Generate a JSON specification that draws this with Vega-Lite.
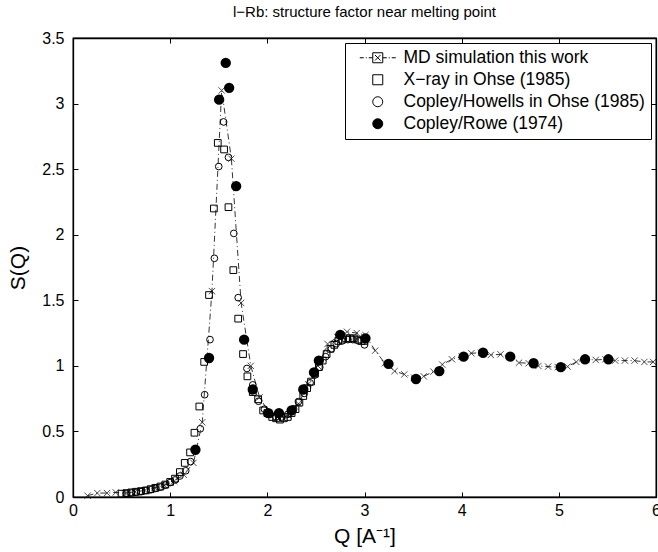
{
  "$schema": "https://vega.github.io/schema/vega-lite/v6.json",
  "width": 583,
  "height": 459,
  "autosize": {"type": "none"},
  "padding": {"left": 73, "top": 38, "right": 2, "bottom": 55},
  "background": "white",
  "title": {"text": "l−Rb: structure factor near melting point", "offset": 10, "fontSize": 15, "font": "Liberation Sans", "fontWeight": "normal", "color": "black"},
  "config": {
    "view": {"stroke": "black", "strokeWidth": 1.3},
    "axis": {"domainColor": "black", "tickColor": "black", "labelColor": "black", "titleColor": "black", "labelFont": "Liberation Sans", "titleFont": "Liberation Sans", "labelFontSize": 16, "titleFontSize": 21, "titleFontWeight": "normal", "grid": false, "tickSize": -5, "tickWidth": 1, "domainWidth": 1.3, "labelFlush": false, "format": "~g"},
    "legend": {"orient": "top-right", "offset": 5, "strokeColor": "black", "fillColor": "white", "padding": 6, "labelFont": "Liberation Sans", "labelFontSize": 17.5, "labelColor": "black", "labelLimit": 400, "symbolSize": 100, "symbolStrokeColor": "black", "symbolStrokeWidth": 1, "symbolOffset": 18, "labelOffset": 17, "rowPadding": 3}
  },
  "datasets": {
    "md": [
      {"q":0.15,"s":0.01},{"q":0.25,"s":0.03},{"q":0.35,"s":0.03},{"q":0.44,"s":0.035},{"q":0.54,"s":0.03},{"q":0.64,"s":0.04},{"q":0.74,"s":0.05},{"q":0.84,"s":0.07},{"q":0.94,"s":0.09},{"q":1.04,"s":0.12},{"q":1.14,"s":0.17},{"q":1.24,"s":0.26},{"q":1.33,"s":0.57},{"q":1.43,"s":1.57},{"q":1.53,"s":3.10},{"q":1.63,"s":2.58},{"q":1.73,"s":1.48},{"q":1.83,"s":1.0},{"q":1.92,"s":0.76},{"q":2.02,"s":0.64},{"q":2.12,"s":0.60},{"q":2.22,"s":0.62},{"q":2.32,"s":0.71},{"q":2.42,"s":0.86},{"q":2.52,"s":1.0},{"q":2.62,"s":1.167},{"q":2.72,"s":1.22},{"q":2.82,"s":1.26},{"q":2.92,"s":1.25},{"q":3.01,"s":1.235},{"q":3.11,"s":1.116},{"q":3.21,"s":1.02},{"q":3.31,"s":0.96},{"q":3.41,"s":0.935},{"q":3.51,"s":0.91},{"q":3.61,"s":0.92},{"q":3.71,"s":0.956},{"q":3.80,"s":1.01},{"q":3.90,"s":1.05},{"q":4.00,"s":1.07},{"q":4.10,"s":1.096},{"q":4.20,"s":1.10},{"q":4.30,"s":1.083},{"q":4.40,"s":1.088},{"q":4.50,"s":1.07},{"q":4.59,"s":1.024},{"q":4.69,"s":1.02},{"q":4.79,"s":0.999},{"q":4.89,"s":0.994},{"q":4.99,"s":0.99},{"q":5.09,"s":0.994},{"q":5.18,"s":1.03},{"q":5.28,"s":1.05},{"q":5.38,"s":1.045},{"q":5.48,"s":1.05},{"q":5.58,"s":1.04},{"q":5.68,"s":1.04},{"q":5.78,"s":1.04},{"q":5.88,"s":1.03},{"q":5.97,"s":1.03}
    ],
    "exp": [
      {"series":"X−ray in Ohse (1985)","q":0.50,"s":0.025},{"series":"X−ray in Ohse (1985)","q":0.55,"s":0.03},{"series":"X−ray in Ohse (1985)","q":0.60,"s":0.035},{"series":"X−ray in Ohse (1985)","q":0.65,"s":0.04},{"series":"X−ray in Ohse (1985)","q":0.70,"s":0.045},{"series":"X−ray in Ohse (1985)","q":0.75,"s":0.05},{"series":"X−ray in Ohse (1985)","q":0.80,"s":0.06},{"series":"X−ray in Ohse (1985)","q":0.85,"s":0.07},{"series":"X−ray in Ohse (1985)","q":0.90,"s":0.08},{"series":"X−ray in Ohse (1985)","q":0.95,"s":0.095},{"series":"X−ray in Ohse (1985)","q":1.00,"s":0.115},{"series":"X−ray in Ohse (1985)","q":1.05,"s":0.14},{"series":"X−ray in Ohse (1985)","q":1.10,"s":0.19},{"series":"X−ray in Ohse (1985)","q":1.15,"s":0.26},{"series":"X−ray in Ohse (1985)","q":1.205,"s":0.34},{"series":"X−ray in Ohse (1985)","q":1.25,"s":0.49},{"series":"X−ray in Ohse (1985)","q":1.30,"s":0.69},{"series":"X−ray in Ohse (1985)","q":1.35,"s":1.03},{"series":"X−ray in Ohse (1985)","q":1.40,"s":1.54},{"series":"X−ray in Ohse (1985)","q":1.45,"s":2.20},{"series":"X−ray in Ohse (1985)","q":1.49,"s":2.70},{"series":"X−ray in Ohse (1985)","q":1.555,"s":2.65},{"series":"X−ray in Ohse (1985)","q":1.60,"s":2.21},{"series":"X−ray in Ohse (1985)","q":1.65,"s":1.73},{"series":"X−ray in Ohse (1985)","q":1.70,"s":1.36},{"series":"X−ray in Ohse (1985)","q":1.75,"s":1.09},{"series":"X−ray in Ohse (1985)","q":1.795,"s":0.92},{"series":"X−ray in Ohse (1985)","q":1.85,"s":0.80},{"series":"X−ray in Ohse (1985)","q":1.905,"s":0.745},{"series":"X−ray in Ohse (1985)","q":1.957,"s":0.66},{"series":"X−ray in Ohse (1985)","q":2.00,"s":0.64},{"series":"X−ray in Ohse (1985)","q":2.05,"s":0.61},{"series":"X−ray in Ohse (1985)","q":2.09,"s":0.60},{"series":"X−ray in Ohse (1985)","q":2.13,"s":0.59},{"series":"X−ray in Ohse (1985)","q":2.17,"s":0.60},{"series":"X−ray in Ohse (1985)","q":2.21,"s":0.61},{"series":"X−ray in Ohse (1985)","q":2.25,"s":0.64},{"series":"X−ray in Ohse (1985)","q":2.29,"s":0.67},{"series":"X−ray in Ohse (1985)","q":2.33,"s":0.72},{"series":"X−ray in Ohse (1985)","q":2.37,"s":0.77},{"series":"X−ray in Ohse (1985)","q":2.41,"s":0.83},{"series":"X−ray in Ohse (1985)","q":2.45,"s":0.88},{"series":"X−ray in Ohse (1985)","q":2.49,"s":0.94},{"series":"X−ray in Ohse (1985)","q":2.53,"s":0.99},{"series":"X−ray in Ohse (1985)","q":2.57,"s":1.04},{"series":"X−ray in Ohse (1985)","q":2.61,"s":1.09},{"series":"X−ray in Ohse (1985)","q":2.65,"s":1.13},{"series":"X−ray in Ohse (1985)","q":2.69,"s":1.16},{"series":"X−ray in Ohse (1985)","q":2.73,"s":1.19},{"series":"X−ray in Ohse (1985)","q":2.77,"s":1.20},{"series":"X−ray in Ohse (1985)","q":2.81,"s":1.21},{"series":"X−ray in Ohse (1985)","q":2.85,"s":1.21},{"series":"X−ray in Ohse (1985)","q":2.89,"s":1.21},{"series":"X−ray in Ohse (1985)","q":2.93,"s":1.20},{"series":"X−ray in Ohse (1985)","q":2.97,"s":1.19},{"series":"X−ray in Ohse (1985)","q":3.00,"s":1.19},
      {"series":"Copley/Howells in Ohse (1985)","q":0.55,"s":0.025},{"series":"Copley/Howells in Ohse (1985)","q":0.60,"s":0.03},{"series":"Copley/Howells in Ohse (1985)","q":0.65,"s":0.035},{"series":"Copley/Howells in Ohse (1985)","q":0.70,"s":0.04},{"series":"Copley/Howells in Ohse (1985)","q":0.75,"s":0.05},{"series":"Copley/Howells in Ohse (1985)","q":0.80,"s":0.055},{"series":"Copley/Howells in Ohse (1985)","q":0.85,"s":0.065},{"series":"Copley/Howells in Ohse (1985)","q":0.90,"s":0.075},{"series":"Copley/Howells in Ohse (1985)","q":0.95,"s":0.09},{"series":"Copley/Howells in Ohse (1985)","q":1.00,"s":0.11},{"series":"Copley/Howells in Ohse (1985)","q":1.05,"s":0.13},{"series":"Copley/Howells in Ohse (1985)","q":1.10,"s":0.16},{"series":"Copley/Howells in Ohse (1985)","q":1.16,"s":0.20},{"series":"Copley/Howells in Ohse (1985)","q":1.21,"s":0.27},{"series":"Copley/Howells in Ohse (1985)","q":1.31,"s":0.52},{"series":"Copley/Howells in Ohse (1985)","q":1.355,"s":0.78},{"series":"Copley/Howells in Ohse (1985)","q":1.41,"s":1.20},{"series":"Copley/Howells in Ohse (1985)","q":1.455,"s":1.82},{"series":"Copley/Howells in Ohse (1985)","q":1.50,"s":2.52},{"series":"Copley/Howells in Ohse (1985)","q":1.55,"s":2.86},{"series":"Copley/Howells in Ohse (1985)","q":1.60,"s":2.59},{"series":"Copley/Howells in Ohse (1985)","q":1.655,"s":2.01},{"series":"Copley/Howells in Ohse (1985)","q":1.70,"s":1.52},{"series":"Copley/Howells in Ohse (1985)","q":1.79,"s":0.98},{"series":"Copley/Howells in Ohse (1985)","q":1.85,"s":0.855},{"series":"Copley/Howells in Ohse (1985)","q":1.91,"s":0.73},{"series":"Copley/Howells in Ohse (1985)","q":1.97,"s":0.67},{"series":"Copley/Howells in Ohse (1985)","q":2.03,"s":0.63},{"series":"Copley/Howells in Ohse (1985)","q":2.09,"s":0.61},{"series":"Copley/Howells in Ohse (1985)","q":2.15,"s":0.61},{"series":"Copley/Howells in Ohse (1985)","q":2.21,"s":0.63},{"series":"Copley/Howells in Ohse (1985)","q":2.27,"s":0.67},{"series":"Copley/Howells in Ohse (1985)","q":2.32,"s":0.727},{"series":"Copley/Howells in Ohse (1985)","q":2.38,"s":0.79},{"series":"Copley/Howells in Ohse (1985)","q":2.44,"s":0.87},{"series":"Copley/Howells in Ohse (1985)","q":2.49,"s":0.93},{"series":"Copley/Howells in Ohse (1985)","q":2.54,"s":0.99},{"series":"Copley/Howells in Ohse (1985)","q":2.60,"s":1.07},{"series":"Copley/Howells in Ohse (1985)","q":2.66,"s":1.13},{"series":"Copley/Howells in Ohse (1985)","q":2.71,"s":1.17},{"series":"Copley/Howells in Ohse (1985)","q":2.77,"s":1.19},{"series":"Copley/Howells in Ohse (1985)","q":2.83,"s":1.20},{"series":"Copley/Howells in Ohse (1985)","q":2.88,"s":1.20},{"series":"Copley/Howells in Ohse (1985)","q":2.94,"s":1.19},{"series":"Copley/Howells in Ohse (1985)","q":3.00,"s":1.16}
    ],
    "cr": [
      {"q":1.26,"s":0.36},{"q":1.40,"s":1.06},{"q":1.504,"s":3.03},{"q":1.572,"s":3.31},{"q":1.607,"s":3.12},{"q":1.679,"s":2.37},{"q":1.761,"s":1.20},{"q":1.85,"s":0.82},{"q":2.01,"s":0.64},{"q":2.12,"s":0.64},{"q":2.25,"s":0.66},{"q":2.37,"s":0.82},{"q":2.48,"s":0.95},{"q":2.53,"s":1.04},{"q":2.75,"s":1.236},{"q":3.01,"s":1.21},{"q":3.247,"s":1.015},{"q":3.53,"s":0.90},{"q":3.77,"s":0.96},{"q":4.02,"s":1.07},{"q":4.22,"s":1.10},{"q":4.50,"s":1.07},{"q":4.74,"s":1.02},{"q":5.02,"s":0.99},{"q":5.27,"s":1.05},{"q":5.51,"s":1.05}
    ]
  },
  "layer": [
    {
      "data": {"name": "md"},
      "mark": {"type": "line", "color": "black", "strokeWidth": 0.8, "strokeDash": [6, 3, 1, 3]},
      "encoding": {
        "x": {"field": "q", "type": "quantitative", "scale": {"domain": [0, 6], "nice": false}, "axis": {"values": [0, 1, 2, 3, 4, 5, 6], "title": "Q [A⁻¹]", "labelPadding": 10, "titlePadding": 7}},
        "y": {"field": "s", "type": "quantitative", "scale": {"domain": [0, 3.5], "nice": false}, "axis": {"values": [0, 0.5, 1, 1.5, 2, 2.5, 3, 3.5], "title": "S(Q)", "labelPadding": 14, "titlePadding": 13}}
      }
    },
    {
      "data": {"name": "md"},
      "mark": {"type": "point", "shape": "M-1,-1L1,1M-1,1L1,-1", "filled": false, "stroke": "black", "strokeWidth": 1, "size": 40},
      "encoding": {
        "x": {"field": "q", "type": "quantitative", "axis": null},
        "y": {"field": "s", "type": "quantitative", "axis": null}
      }
    },
    {
      "data": {"name": "exp"},
      "mark": {"type": "point", "strokeWidth": 1, "size": 45, "opacity": 1},
      "encoding": {
        "x": {"field": "q", "type": "quantitative", "axis": null},
        "y": {"field": "s", "type": "quantitative", "axis": null},
        "shape": {"field": "series", "type": "nominal", "scale": {"domain": ["MD simulation this work", "X−ray in Ohse (1985)", "Copley/Howells in Ohse (1985)", "Copley/Rowe (1974)"], "range": ["M-3.6,0H-2.8M-2.4,0H-2.2M-1.8,0H-1M1,0H1.8M2.2,0H2.4M2.8,0H3.6M-1,-1H1V1H-1ZM-0.55,-0.55L0.55,0.55M-0.55,0.55L0.55,-0.55", "square", "circle", "circle"]}, "legend": {"title": null, "labelExpr": "datum.label == 'Copley/Howells in Ohse (1985)' ? datum.label + '\u00a0\u00a0\u00a0\u00a0\u00a0\u00a0\u00a0' : datum.label"}},
        "fill": {"field": "series", "type": "nominal", "scale": {"domain": ["MD simulation this work", "X−ray in Ohse (1985)", "Copley/Howells in Ohse (1985)", "Copley/Rowe (1974)"], "range": ["transparent", "transparent", "transparent", "black"]}, "legend": {"title": null, "labelExpr": "datum.label == 'Copley/Howells in Ohse (1985)' ? datum.label + '\u00a0\u00a0\u00a0\u00a0\u00a0\u00a0\u00a0' : datum.label"}},
        "stroke": {"field": "series", "type": "nominal", "scale": {"domain": ["MD simulation this work", "X−ray in Ohse (1985)", "Copley/Howells in Ohse (1985)", "Copley/Rowe (1974)"], "range": ["black", "black", "black", "black"]}, "legend": {"title": null, "labelExpr": "datum.label == 'Copley/Howells in Ohse (1985)' ? datum.label + '\u00a0\u00a0\u00a0\u00a0\u00a0\u00a0\u00a0' : datum.label"}}
      }
    },
    {
      "data": {"name": "cr"},
      "mark": {"type": "point", "shape": "circle", "filled": true, "fill": "black", "stroke": "black", "size": 70, "opacity": 1},
      "encoding": {
        "x": {"field": "q", "type": "quantitative", "axis": null},
        "y": {"field": "s", "type": "quantitative", "axis": null}
      }
    },
    {
      "data": {"name": "md"},
      "mark": {"type": "point", "opacity": 0},
      "encoding": {
        "x": {"field": "q", "type": "quantitative", "axis": {"orient": "top", "values": [0, 1, 2, 3, 4, 5, 6], "labels": false, "title": null}},
        "y": {"field": "s", "type": "quantitative", "axis": {"orient": "right", "values": [0, 0.5, 1, 1.5, 2, 2.5, 3, 3.5], "labels": false, "title": null}}
      }
    }
  ],
  "resolve": {"axis": {"x": "independent", "y": "independent"}}
}
